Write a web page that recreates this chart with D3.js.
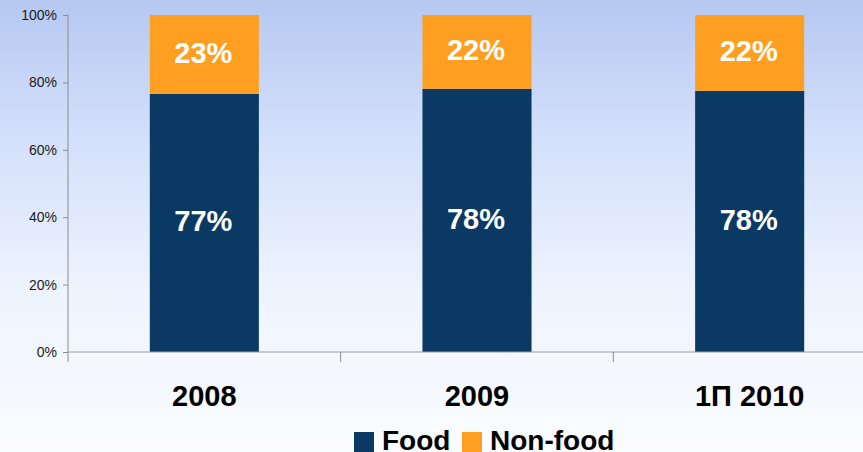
<!DOCTYPE html>
<html>
<head>
<meta charset="utf-8">
<script src="https://cdn.jsdelivr.net/npm/d3@7"></script>
<style>
    body { margin: 0; }
    svg { display: block; font-family: Arial, "Liberation Sans", sans-serif; }
</style>
</head>
<body>
<div id="chart"></div>
<script>
var categories = ["2008", "2009", "1П 2010"];
var food = [76.6, 78.1, 77.5];
var nonFood = [23.4, 21.9, 22.5];
var foodLabels = ["77%", "78%", "78%"];
var nonFoodLabels = ["23%", "22%", "22%"];
var yTicks = [0, 20, 40, 60, 80, 100];
var seriesNames = ["Food", "Non-food"];
var colors = ["#0a3a64", "#ff9f22"];

var width = 863, height = 452;

var svg = d3.select("#chart")
    .append("svg")
    .attr("width", width)
    .attr("height", height);

// sky-ish background
var grad = svg.append("defs").append("linearGradient")
    .attr("id", "bg")
    .attr("x1", 0).attr("y1", 0).attr("x2", 0).attr("y2", 1);
grad.append("stop").attr("offset", "0%").attr("stop-color", "#b6c8f1");
grad.append("stop").attr("offset", "30%").attr("stop-color", "#d3e0fb");
grad.append("stop").attr("offset", "65%").attr("stop-color", "#eef4fe");
grad.append("stop").attr("offset", "100%").attr("stop-color", "#fafcff");
svg.append("rect")
    .attr("width", width)
    .attr("height", height)
    .attr("fill", "url(#bg)");

var x = d3.scaleBand()
    .domain(categories)
    .range([68, 886])
    .paddingInner(0)
    .paddingOuter(0);

var y = d3.scaleLinear()
    .domain([0, 100])
    .range([352, 15]);

var barW = x.bandwidth() * 0.4;

var stackData = categories.map(function (c, i) {
    return { cat: c, Food: food[i], "Non-food": nonFood[i], labels: [foodLabels[i], nonFoodLabels[i]] };
});
var stacked = d3.stack().keys(seriesNames)(stackData);

var layers = svg.selectAll(".layer")
    .data(stacked)
    .enter()
    .append("g")
    .attr("class", "layer")
    .attr("fill", function (d, i) { return colors[i]; });

layers.selectAll("rect")
    .data(function (d) { return d; })
    .enter()
    .append("rect")
    .attr("x", function (d) { return x(d.data.cat) + (x.bandwidth() - barW) / 2; })
    .attr("width", barW)
    .attr("y", function (d) { return y(d[1]); })
    .attr("height", function (d) { return y(d[0]) - y(d[1]); });

stacked.forEach(function (layer, li) {
    svg.selectAll(".lbl" + li)
        .data(layer)
        .enter()
        .append("text")
        .attr("x", function (d) { return x(d.data.cat) + x.bandwidth() / 2 - 1; })
        .attr("y", function (d) { return (y(d[0]) + y(d[1])) / 2 - 2; })
        .attr("dy", "0.36em")
        .attr("text-anchor", "middle")
        .attr("fill", "#fff")
        .attr("font-weight", "bold")
        .attr("font-size", 29)
        .text(function (d) { return d.data.labels[li]; });
});

// y axis
var yAxis = svg.append("g")
    .attr("transform", "translate(68,0)")
    .call(d3.axisLeft(y).tickValues(yTicks).tickSize(5).tickPadding(6)
        .tickFormat(function (d) { return d + "%"; }));
yAxis.select(".domain").remove();
yAxis.append("line")
    .attr("x1", 0).attr("x2", 0)
    .attr("y1", y(100)).attr("y2", 362)
    .attr("stroke", "#8c8c8c");
yAxis.selectAll(".tick line").attr("stroke", "#8c8c8c");
yAxis.selectAll(".tick text")
    .attr("font-size", 14)
    .attr("fill", "#1a1a1a")
    .attr("font-family", "Arial, 'Liberation Sans', sans-serif");

// x axis
var xg = svg.append("g");
xg.append("line")
    .attr("x1", 68).attr("x2", 886)
    .attr("y1", 352).attr("y2", 352)
    .attr("stroke", "#9a9a9a");
xg.selectAll(".xtick")
    .data(categories.slice(1))
    .enter()
    .append("line")
    .attr("x1", function (d) { return x(d); })
    .attr("x2", function (d) { return x(d); })
    .attr("y1", 352).attr("y2", 362)
    .attr("stroke", "#8c8c8c");
xg.selectAll(".xlabel")
    .data(categories)
    .enter()
    .append("text")
    .attr("x", function (d) { return x(d) + x.bandwidth() / 2; })
    .attr("y", 406)
    .attr("text-anchor", "middle")
    .attr("font-weight", "bold")
    .attr("font-size", 29)
    .attr("fill", "#000")
    .text(function (d) { return d; });

// legend
var legendX = [354, 462];
var legend = svg.selectAll(".legend")
    .data(seriesNames)
    .enter()
    .append("g")
    .attr("class", "legend")
    .attr("transform", function (d, i) { return "translate(" + legendX[i] + ",432)"; });
legend.append("rect")
    .attr("width", 20)
    .attr("height", 20)
    .attr("fill", function (d, i) { return colors[i]; });
legend.append("text")
    .attr("x", 28)
    .attr("y", 18)
    .attr("font-weight", "bold")
    .attr("font-size", 28)
    .attr("fill", "#000")
    .text(function (d) { return d; });
</script>
</body>
</html>
